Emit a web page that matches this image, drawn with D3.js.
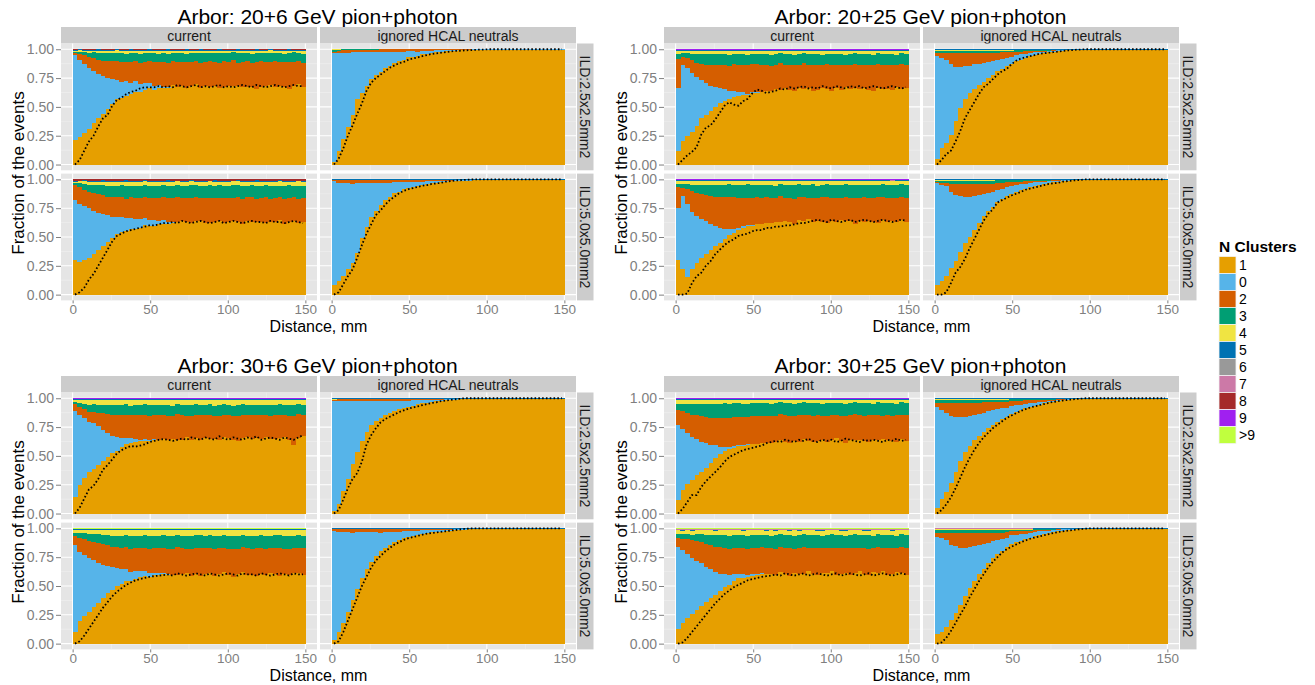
<!DOCTYPE html>
<html><head><meta charset="utf-8">
<script src="https://cdn.jsdelivr.net/npm/d3@7"></script>
<style>body{margin:0;background:#fff}svg{font-family:"Liberation Sans",Arial,sans-serif}</style>
</head><body>
<script>
// ---------- DATA (percent of events per 3 mm distance bin) ----------
const binEdges=[0,3,6,9,12,15,18,21,24,27,30,33,36,39,42,45,48,51,54,57,60,63,66,69,72,75,78,81,84,87,90,93,96,99,102,105,108,111,114,117,120,123,126,129,132,135,138,141,144,147,150];
const clusterKeys=["1","0","2","3","4","5","6","7","8","9",">9"];
const titles=["Arbor: 20+6 GeV pion+photon","Arbor: 20+25 GeV pion+photon","Arbor: 30+6 GeV pion+photon","Arbor: 30+25 GeV pion+photon"];
const colLabels=["current","ignored HCAL neutrals"];
const rowLabels=["ILD:2.5x2.5mm2","ILD:5.0x5.0mm2"];
const yTicks=[0,0.25,0.5,0.75,1];
const xTicks=[0,50,100,150];

// 20+6 current 2.5
const aC25_n1=[21,24,27,31,36,40,44,48,52,56,58,59,61,62,63,64,65,65,66,66,67,68,67,68,66,68,69,67,68,67,68,67,66,68,67,69,68,67,68,66,67,68,69,67,68,67,66,68,69,68];
const aC25_n0=[74,66,60,53,45,39,33,27,22,17,14,13,10,9,7,6,4,3,2,1,0.5,0,0,0.3,0,0,0,0,0,0,0,0,0,0,0,0,0,0,0,0,0,0,0,0,0,0,0,0,0,0];
const aC25_n2=[2,5,7,9,11,12,13,14,15,16,17,16,18,17,19,18,19,21,20,21,21,20,22,21,22,21,20,22,21,22,21,22,22,20,22,20,21,22,21,23,22,21,20,22,21,22,23,21,20,21];
const aC25_n3=[1,2,3,4,5,6,7,7,7,7,8,7,8,7,8,8,7,8,7,8,8,7,8,8,7,8,7,8,8,7,8,8,7,8,7,8,8,7,8,8,7,8,8,7,8,7,8,8,7,8];
const aC25_n4=[1,1,1,1.5,1.5,2,2,2,2,2,2,2.5,2,2,2.5,2,1.5,2,2.5,2,2.5,2,2,1.5,2.5,2,2,2.5,1.5,2,2,2.5,2,2,1.5,2.5,2,2,2.5,2,2,1.5,2.5,2,2,2.5,2,1.5,2,2.5];
const aC25_n5=[1,0.8,1,1.2,1,0.9,1,1.1,1,0.8,1,1.2,0.9,1,1,0.8,1.1,1,0.9,1,1.2,1,0.8,1,1.1,0.9,1,1,1.2,0.8,1,0.9,1.1,1,0.8,1,1.2,1,0.9,1,1,1.1,0.8,1,1,0.9,1.2,1,0.8,1];
const aC25_n8=[0.3,0.2,0.3,0.4,0.3,0.2,0.3,0.3,0.4,0.2,0.3,0.3,0.2,0.4,0.3,0.3,0.2,0.3,0.4,0.3,0.2,0.3,0.3,0.4,0.2,0.3,0.3,0.2,0.4,0.3,0.3,0.2,0.3,0.4,0.3,0.2,0.3,0.3,0.4,0.2,0.3,0.3,0.2,0.4,0.3,0.3,0.2,0.3,0.4,0.3];
const aC25_dots=[0,4,12,20,25,33,40,43,51,56,58,61,63,64,66,67,67,67,68,67,68,67,69,68,67,68,69,67,68,67,68,69,67,68,67,68,69,68,67,69,68,67,68,69,68,67,68,69,68,68];

// 20+6 current 5.0
const aC50_n1=[30,28,30,32,35,39,42,46,49,52,54,56,57,57,58,59,60,60,61,61,62,63,62,64,63,62,63,64,63,62,63,64,62,63,64,63,62,64,63,64,63,62,64,63,64,62,63,64,63,63];
const aC50_n0=[53,51,47,43,38,32,28,23,19,15,13,11,9,9,8,6,5,5,3,3,1,0.5,0,0,0,0,0,0,0,0,0,0,0,0,0,0,0,0,0,0,0,0,0,0,0,0,0,0,0,0];
const aC50_n2=[13,15,14,14,15,16,16,16,17,16.5,17,17,18,18,18,18.5,19,19,19.5,20,21,21,21,20,21,22,21,20,21,22,21,20,22,21,20,21,22,20,21,20,21,22,20,21,20,22,21,20,21,21];
const aC50_n3=[2,3,5,6.5,7,8,9,9.5,10,10,10.5,11,10,11,10.5,10,11,10.5,11,10,11,10.5,10,11,10.5,11,10,10.5,11,10.5,10,11,10.5,10,11,10.5,11,10,10.5,11,10.5,10,11,10.5,10,11,10.5,10,11,10.5];
const aC50_n4=[1,1.5,2,2.5,3,3,3,3.5,3.5,3.5,3,4,3.5,3.5,4,3,3.5,4,3.5,3,3.5,4,3,3.5,4,3.5,3,4,3.5,3.5,4,3,3.5,4,3.5,3,4,3.5,3,4,3.5,3,4,3.5,3.5,4,3,3.5,4,3.5];
const aC50_n5=[1,0.8,1,1.2,1,0.9,1,1.1,1,0.8,1,1.2,0.9,1,1,0.8,1.1,1,0.9,1,1.2,1,0.8,1,1.1,0.9,1,1,1.2,0.8,1,0.9,1.1,1,0.8,1,1.2,1,0.9,1,1,1.1,0.8,1,1,0.9,1.2,1,0.8,1];
const aC50_n8=[1,1,0.8,1,1.2,1,0.9,1,1,1.1,1,0.9,1,1.2,1,0.8,1,1,1.1,1,0.9,1,1,1.2,1,0.8,1,1.1,1,1,0.9,1,1.2,1,1,0.8,1,1.1,1,0.9,1,1,1.2,1,0.8,1,1,1.1,1,1];
const aC50_dots=[0,2,6,13,18,25,32,39,46,51,53,55,56,57,58,59,60,60,61,62,62,63,62,64,63,62,63,64,63,62,63,64,62,63,64,63,62,63,64,63,63,62,64,63,63,62,63,64,63,62];

// 20+6 ignored 2.5
const aI25_n1=[2,12,22,32,42,57,62,68,74,77,80,83,85,87,89,90,92,93,94,95,96,96.5,97,97.5,98,98.5,98.5,99,99,99.2,99.4,99.5,99.4,99.6,99.5,99.6,99.5,99.6,99.7,99.6,99.7,99.6,99.7,99.7,99.6,99.7,99.8,99.7,99.7,99.8];
const aI25_n0=[95,85,74,64,54,40,35,29,23,20,17,14,12,10,8,7,5.5,4.5,3.5,3,2.5,2,2,1.5,1,0.8,0.8,0.5,0.5,0.4,0.3,0.3,0.3,0.3,0.3,0.3,0.3,0.3,0.3,0.3,0.2,0.2,0.2,0.2,0.2,0.2,0.2,0.2,0.2,0.2];
const aI25_n2=[1,2,3,2.5,2,2.5,2,2.5,2,2,2,2,2,2,2,2,1.5,1.8,2,1.5,1.2,1.2,0.8,0.8,0.8,0.5,0.5,0.4,0.4,0.3,0.2,0.2,0.2,0.2,0.2,0.2,0.2,0.2,0.2,0.2,0.2,0.2,0.2,0.2,0.2,0.2,0.2,0.2,0.2,0.2];
const aI25_n3=[1.5,1,0.3,0.3,0.3,0.3,0.3,0.3,0.3,0.3,0.2,0.2,0.1,0,0,0,0,0,0,0,0,0,0,0,0,0,0,0,0,0,0,0,0,0,0,0,0,0,0,0,0,0,0,0,0,0,0,0,0,0];
const aI25_n4=[0.5,0.3,0,0,0,0,0,0,0,0,0,0,0,0,0,0,0,0,0,0,0,0,0,0,0,0,0,0,0,0,0,0,0,0,0,0,0,0,0,0,0,0,0,0,0,0,0,0,0,0];
const aI25_dots=[0,5,14,25,34,44,53,64,71,75,78,81,84,86,88,89,91,92,93,94,95,96,96.5,97,97.5,98,98.5,98.7,99,99.2,99.4,99.6,99.7,100,100,100,100,100,100,100,100,100,100,100,100,100,100,100,100,100];

// 20+6 ignored 5.0
const aI50_n1=[8,12,16,22,27,36,48,58,66,72,77,81,84,87,89,91,92,93,94,95,95.5,96,97,97.5,98,98.5,98.5,99,99,99.2,99.3,99.4,99.3,99.4,99.5,99.4,99.5,99.4,99.5,99.5,99.5,99.5,99.4,99.5,99.5,99.5,99.5,99.4,99.5,99.5];
const aI50_n0=[89,84,79,73,68,59,47,37,29,24,19,15,12,9.5,8,6,5,4,3.5,2.8,2.5,2,1.5,1.2,1,0.7,0.7,0.5,0.4,0.3,0.2,0.2,0.2,0.2,0.2,0.2,0.2,0.2,0.2,0.2,0.2,0.2,0.2,0.2,0.2,0.2,0.2,0.2,0.2,0.2];
const aI50_n2=[1,2.5,3,3,3,3,3,3,3,2.5,2.5,2.5,2.5,2.2,2,2,2,2,1.5,1.5,1.2,1,1,0.8,0.6,0.5,0.4,0.3,0.3,0.2,0.1,0.1,0.1,0.1,0.1,0.1,0.1,0.1,0.1,0.1,0.1,0.1,0.1,0.1,0.1,0.1,0.1,0.1,0.1,0.1];
const aI50_n5=[0.5,0.5,0.4,0.5,0.6,0.5,0.5,0.4,0.5,0.5,0.6,0.5,0.5,0.4,0.5,0.5,0.6,0.5,0.4,0.5,0.5,0.5,0.6,0.5,0.4,0.5,0.5,0.5,0.6,0.5,0.5,0.4,0.5,0.5,0.6,0.5,0.5,0.4,0.5,0.5,0.5,0.6,0.5,0.4,0.5,0.5,0.5,0.6,0.5,0.5];
const aI50_dots=[0,2,9,16,22,32,43,53,61,69,73,78,82,85,88,90,91.5,92.5,93.5,94.5,95,96,96.5,97,98,98.5,99,99.2,99.5,99.7,100,100,100,100,100,100,100,100,100,100,100,100,100,100,100,100,100,100,100,100];

// 20+25 current 2.5
const bC25_n1=[12,20,24,28,33,40,43,46,50,53,55,57,58,59,60,61,62,62,63,64,64,65,64,66,65,64,66,65,66,64,65,66,65,64,66,65,67,65,66,65,66,65,64,66,65,66,65,67,65,66];
const bC25_n0=[55,66,58,50,42,32,27,22,17,13,10,7,5,3.5,2.5,1.5,0.5,0.5,0,0,0,0,0,0,0,0,0,0,0,0,0,0,0,0,0,0,0,0,0,0,0,0,0,0,0,0,0,0,0,0];
const bC25_n2=[25,7,9,11,12,14,16,18,19,20,21,22,23,24,24,25,24,24.5,23.5,22.5,22.5,21.5,22.5,20.5,21.5,22.5,20.5,21.5,20.5,22.5,21.5,20.5,21.5,22.5,20.5,21.5,19.5,21.5,20.5,21.5,20.5,21.5,22.5,20.5,21.5,20.5,21.5,19.5,21.5,20.5];
const bC25_n3=[4,3,4,5,7,8,9,9,9,9,9,9.5,8.5,9,9,9.5,9,8.5,9,9,9.5,9,8.5,9,9.5,9,9,8.5,9,9.5,9,8.5,9,9.5,9,9,8.5,9,9.5,9,9,9.5,8.5,9,9,9.5,9,8.5,9,9];
const bC25_n4=[3,2,2,2.5,3,3,3,3,3,3,3,3.5,2.5,3,3,3.5,3,2.5,3,3,3.5,3,2.5,3,3,3.5,3,2.5,3,3,3,3.5,3,2.5,3,3,3.5,3,2.5,3,3,3,3.5,2.5,3,3,3,3.5,2.5,3];
const bC25_n5=[0.5,0.5,0.4,0.6,0.5,0.5,0.4,0.5,0.6,0.5,0.5,0.4,0.5,0.5,0.6,0.5,0.4,0.5,0.5,0.6,0.5,0.5,0.4,0.5,0.6,0.5,0.5,0.4,0.5,0.5,0.6,0.5,0.4,0.5,0.5,0.6,0.5,0.5,0.4,0.5,0.6,0.5,0.5,0.4,0.5,0.5,0.6,0.5,0.4,0.5];
const bC25_n9=[0.8,0.8,0.7,0.9,0.8,0.8,0.7,0.8,0.9,0.8,0.8,0.7,0.8,0.8,0.9,0.8,0.7,0.8,0.8,0.9,0.8,0.8,0.7,0.8,0.9,0.8,0.8,0.7,0.8,0.8,0.9,0.8,0.7,0.8,0.8,0.9,0.8,0.8,0.7,0.8,0.9,0.8,0.8,0.7,0.8,0.8,0.9,0.8,0.7,0.8];
const bC25_dots=[0,4,8,11,15,26,32,34,39,45,51,54,52,51,55,57,62,65,64,62,63,64,66,65,67,66,67,68,66,67,66,68,67,66,68,67,66,68,67,68,66,67,68,67,66,67,68,67,66,67];

// 20+25 current 5.0
const bC50_n1=[30,22,15,22,27,31,35,39,42,45,49,52,54,56,58,59,60,60.5,61,62,62,63,62,64,63,62,64,63,65,63,64,63,62,64,63,65,63,64,62,64,63,64,63,62,64,63,64,63,64,63];
const bC50_n0=[45,63,63,50,41,34,28,22,17.5,13,8,5,3,2,1.5,1,0.5,0.5,0,0,0,0,0,0,0,0,0,0,0,0,0,0,0,0,0,0,0,0,0,0,0,0,0,0,0,0,0,0,0,0];
const bC50_n2=[19,7,13,18,20,21,22,24,25.5,27,28,28,28,26,24.5,24,23.5,23,23,22,22,21,22,20,21,22,20,21,19,21,20,21,22,20,21,19,21,20,22,20,21,20,21,22,20,21,20,21,20,21];
const bC50_n3=[2,3,4,5,7,8,9,10,10,10.5,11,11.5,10.5,11,11,11.5,11,10.5,11,11,11.5,11,10.5,11,11,11.5,11,10.5,11,11.5,11,10.5,11,11.5,11,11,10.5,11,11.5,11,11,11.5,10.5,11,11,11.5,11,10.5,11,11];
const bC50_n4=[3,3,3,3.5,3.5,3.5,3.5,3.5,3.5,3.5,3.5,3,4,3.5,3.5,3,4,3.5,3.5,3,3.5,4,3,3.5,3.5,4,3,3.5,3.5,3,4,3.5,3,3.5,4,3.5,3,3.5,4,3.5,3,3.5,4,3.5,3,3.5,3.5,4,3,3.5];
const bC50_n5=[0.5,0.5,0.4,0.6,0.5,0.5,0.4,0.5,0.6,0.5,0.5,0.4,0.5,0.5,0.6,0.5,0.4,0.5,0.5,0.6,0.5,0.5,0.4,0.5,0.6,0.5,0.5,0.4,0.5,0.5,0.6,0.5,0.4,0.5,0.5,0.6,0.5,0.5,0.4,0.5,0.6,0.5,0.5,0.4,0.5,0.5,0.6,0.5,0.4,0.5];
const bC50_n7=[0.3,0.3,0.2,0.4,0.3,0.3,0.2,0.3,0.4,0.3,0.3,0.2,0.3,0.3,0.4,0.3,0.2,0.3,0.3,0.4,0.3,0.3,0.2,0.3,0.4,0.3,0.3,0.2,0.3,0.3,0.4,0.3,0.2,0.3,0.3,0.4,0.3,0.3,0.2,0.3,0.4,0.3,0.3,0.2,0.3,0.3,0.4,0.3,0.2,0.3];
const bC50_n9=[0.5,0.6,0.5,0.4,0.5,0.5,0.6,0.5,0.4,0.5,0.5,0.6,0.5,0.4,0.5,0.5,0.6,0.5,0.4,0.5,0.5,0.6,0.5,0.4,0.5,0.5,0.6,0.5,0.4,0.5,0.5,0.6,0.5,0.4,0.5,0.5,0.6,0.5,0.4,0.5,0.5,0.6,0.5,0.4,0.5,0.5,0.6,0.5,0.4,0.5];
const bC50_dots=[0,0,1,10,16,19,25,29,35,39,43,46,48,51,52,53,55,56,56,58,58,59,59,60,60,61,62,62,63,64,65,64,63,65,64,63,64,65,63,64,65,64,63,64,65,64,63,64,65,64];

// 20+25 ignored 2.5
const bI25_n1=[5,14,19,26,38,49,57,62,66,69,72,75,78,81,83,85,87,89,90.5,92,93,94,95,96,97,97.5,98,98.5,99,99.2,99.3,99.4,99.5,99.4,99.5,99.6,99.5,99.6,99.6,99.5,99.6,99.6,99.7,99.6,99.6,99.7,99.6,99.7,99.6,99.7];
const bI25_n0=[88,78,71,61,47,36,29,24,21,18.5,16,14,12,9.5,8.5,7.5,6,5,4.5,3.5,3,2.5,2,1.5,1,1,0.5,0.3,0.2,0.2,0.1,0.1,0.1,0.1,0.1,0.1,0.1,0.1,0.1,0.1,0.1,0.1,0.1,0.1,0.1,0.1,0.1,0.1,0.1,0.1];
const bI25_n2=[3,4,6.5,10,12,12,11,11,10,9.5,9,8,7,6.5,5.5,4.5,4,3,2.5,2,1.5,1.2,1,0.8,0.5,0.3,0.3,0.2,0.2,0.1,0.1,0.1,0.1,0.1,0.1,0.1,0.1,0.1,0.1,0.1,0.1,0.1,0.1,0.1,0.1,0.1,0.1,0.1,0.1,0.1];
const bI25_n3=[2,2,2,2,2,2,2,2,2,2,2,2,1.8,1.8,1.6,1.6,1.5,1.5,1.3,1.2,1,0.8,0.6,0.5,0.4,0.3,0.2,0.2,0.1,0.1,0.1,0.1,0.1,0.1,0.1,0.1,0.1,0.1,0.1,0.1,0.1,0.1,0.1,0.1,0.1,0.1,0.1,0.1,0.1,0.1];
const bI25_n4=[0.8,0.8,0.8,0.8,0.8,0.8,0.8,0.8,0.8,0.8,0.8,0.8,0.8,0.8,0.8,0.8,0.8,0.4,0.4,0.4,0.4,0.4,0.4,0.4,0.4,0.4,0.1,0.1,0.1,0.1,0.1,0.1,0.1,0.1,0.1,0.1,0.1,0.1,0.1,0.1,0.1,0.1,0.1,0.1,0.1,0.1,0.1,0.1,0.1,0.1];
const bI25_n5=[0.3,0.3,0.3,0.3,0.3,0.3,0.3,0.3,0.3,0.3,0.3,0.3,0.3,0.3,0.3,0.3,0.3,0.3,0.3,0.3,0.3,0.3,0.3,0.3,0.3,0.3,0.3,0.3,0.3,0.3,0.3,0.3,0.3,0.3,0.3,0.3,0.3,0.3,0.3,0.3,0.3,0.3,0.3,0.3,0.3,0.3,0.3,0.3,0.3,0.3];
const bI25_dots=[0,4,9,12,20,29,40,47,54,61,67,70,74,78,81,83,87,90,92,93,94,95,96,96.5,97,97.5,98,98.5,99,99.3,99.6,99.8,100,100,100,100,100,100,100,100,100,100,100,100,100,100,100,100,100,100];

// 20+25 ignored 5.0
const bI50_n1=[8,12,16,23,29,37,44,50,56,62,68,72,76,80,82,84,86,87.5,89,90.5,92,93,94,95,96,97,97.5,98,98.5,99,99.2,99.3,99.4,99.5,99.4,99.5,99.6,99.5,99.6,99.5,99.6,99.6,99.5,99.6,99.7,99.6,99.6,99.7,99.6,99.7];
const bI50_n0=[88,83,77,65,57,48,40,34,29,24,19,16,13,10,9,8,7,6,5,4,3.5,3,2.5,2,1.5,1,1,0.5,0.4,0.3,0.2,0.2,0.2,0.2,0.2,0.2,0.2,0.2,0.2,0.2,0.1,0.1,0.1,0.1,0.1,0.1,0.1,0.1,0.1,0.1];
const bI50_n2=[1,1.5,3,7,9,10,11,11.5,10.5,9.5,8.5,7.5,6.5,6,5,4,3,2.5,2.2,2,1.5,1.2,1,0.8,0.6,0.5,0.4,0.3,0.3,0.2,0.1,0.1,0.1,0.1,0.1,0.1,0.1,0.1,0.1,0.1,0.1,0.1,0.1,0.1,0.1,0.1,0.1,0.1,0.1,0.1];
const bI50_n3=[1,2,2,3,3,3,3,3,3,3,3,3,3,2.5,2.5,2,2,1.5,1.5,1.2,1,0.8,0.6,0.5,0.4,0.3,0.3,0.2,0.2,0.1,0.1,0.1,0.1,0.1,0.1,0.1,0.1,0.1,0.1,0.1,0.1,0.1,0.1,0.1,0.1,0.1,0.1,0.1,0.1,0.1];
const bI50_n4=[0.7,0.7,0.7,0.7,0.7,0.7,0.7,0.7,0.7,0.7,0.7,0.7,0.7,0.3,0.3,0.3,0.3,0.3,0.3,0.3,0.3,0.3,0.3,0.3,0.3,0.3,0,0,0,0,0,0,0,0,0,0,0,0,0,0,0,0,0,0,0,0,0,0,0,0];
const bI50_n5=[0.3,0.3,0.3,0.3,0.3,0.3,0.3,0.3,0.3,0.3,0.3,0.3,0.3,0.3,0.3,0.3,0.3,0.3,0.3,0.3,0.3,0.3,0.3,0.3,0.3,0.3,0.3,0.3,0.3,0.3,0.3,0.3,0.3,0.3,0.3,0.3,0.3,0.3,0.3,0.3,0.3,0.3,0.3,0.3,0.3,0.3,0.3,0.3,0.3,0.3];
const bI50_dots=[0,0,2,10,19,24,31,40,48,56,64,70,74,80,82,84,86,87.5,89,91,92,93,94,95,96,96.5,97,98,98.5,99,99.3,99.6,100,100,100,100,100,100,100,100,100,100,100,100,100,100,100,100,100,100];

// 30+6 current 2.5
const cC25_n1=[14,25,30,36,38,42,45,49,53,55,58,60,61,62,63,63,63,64,64,64.5,64,65,63,64,66,64,65,63,65,64,65,64,66,65,64,63,65,66,64,65,64,66,65,64,65,66,64,60,65,67];
const cC25_n0=[75,60,52,43,40,34,27,21,14.5,11.5,8,6,4.5,3,1.5,1.5,1,0.5,0,0,0,0,0,0,0,0,0,0,0,0,0,0,0,0,0,0,0,0,0,0,0,0,0,0,0,0,0,0,0,0];
const cC25_n2=[6,7,7,9,9.5,11,14.5,16,18.5,19.5,20,19.5,20,20.5,21,21,21,21,21,20.5,21,20,22,21,19,21,20,22,20,21,20,21,19,20,21,22,20,19,21,20,21,19,20,21,20,19,21,25,20,18];
const cC25_n3=[2,3,5,6,6.5,7,7.5,8,8.5,9,9,9.5,8.5,9,9,9.5,9,8.5,9,9,9.5,9,8.5,9,9,9.5,9,8.5,9,9,9,9.5,9,8.5,9,9,9.5,9,8.5,9,9,9,9.5,8.5,9,9,9,9.5,8.5,9];
const cC25_n4=[2,3,3.5,4,4,4.5,4.5,4.5,4.5,4.5,4.5,4,5,4.5,4.5,4,5,4.5,4.5,4,4.5,5,4,4.5,4.5,5,4,4.5,4.5,4,5,4.5,4,4.5,5,4.5,4,4.5,5,4.5,4,4.5,5,4.5,4,4.5,4.5,5,4,4.5];
const cC25_n5=[0.5,0.5,0.4,0.6,0.5,0.5,0.4,0.5,0.6,0.5,0.5,0.4,0.5,0.5,0.6,0.5,0.4,0.5,0.5,0.6,0.5,0.5,0.4,0.5,0.6,0.5,0.5,0.4,0.5,0.5,0.6,0.5,0.4,0.5,0.5,0.6,0.5,0.5,0.4,0.5,0.6,0.5,0.5,0.4,0.5,0.5,0.6,0.5,0.4,0.5];
const cC25_n9=[0.8,0.8,0.7,0.9,0.8,0.8,0.7,0.8,0.9,0.8,0.8,0.7,0.8,0.8,0.9,0.8,0.7,0.8,0.8,0.9,0.8,0.8,0.7,0.8,0.9,0.8,0.8,0.7,0.8,0.8,0.9,0.8,0.7,0.8,0.8,0.9,0.8,0.8,0.7,0.8,0.9,0.8,0.8,0.7,0.8,0.8,0.9,0.8,0.7,0.8];
const cC25_dots=[0,5,13,21,24,30,38,42,47,52,55,57,58.5,58,59,60,62,63,64,64.5,64,63,64,65,64,66,65,64,66,65,64,67,65,64,66,65,64,66,65,67,64,65,66,65,64,66,65,64,66,68];

// 30+6 current 5.0
const cC50_n1=[10,20,24,28,32,36,40,44,47,50,52,54,55,56,57,58,58,59,59,60,59,60,58,60,61,59,60,58,60,61,59,60,61,59,58,60,61,59,60,58,60,59,61,60,58,60,59,61,60,59];
const cC50_n0=[75,60,53,47,41,35,29,24,20,16,13,10,8,6.5,5,4,3,2,1.5,1,0.5,0,0,0,0,0,0,0,0,0,0,0,0,0,0,0,0,0,0,0,0,0,0,0,0,0,0,0,0,0];
const cC50_n2=[8,12,14,15,16,17,18,18,18,18,18.5,19,19.5,20,20,20,21,21,21.5,21,22,22,24,22,21,23,22,24,22,21,23,22,21,23,24,22,21,23,22,24,22,23,21,22,24,22,23,21,22,23];
const cC50_n3=[3,4,5,6,7,8,8.5,9,9.5,10,11,10.5,11.5,11,10.5,11,11.5,11,10.5,11,11,11.5,10.5,11,11,11.5,11,10.5,11,11.5,11,10.5,11,11.5,11,11,10.5,11,11.5,11,11,11.5,10.5,11,11,11.5,11,10.5,11,11];
const cC50_n4=[2.5,3,3,3.5,3.5,4,4.5,4.5,5,5,5,4.5,5.5,5,5,4.5,5.5,5,5,4.5,5,5.5,4.5,5,5,5.5,4.5,5,5,4.5,5.5,5,4.5,5,5.5,5,4.5,5,5.5,5,4.5,5,5.5,5,4.5,5,5,5.5,4.5,5];
const cC50_n5=[0.7,0.7,0.6,0.8,0.7,0.7,0.6,0.7,0.8,0.7,0.7,0.6,0.7,0.7,0.8,0.7,0.6,0.7,0.7,0.8,0.7,0.7,0.6,0.7,0.8,0.7,0.7,0.6,0.7,0.7,0.8,0.7,0.6,0.7,0.7,0.8,0.7,0.7,0.6,0.7,0.8,0.7,0.7,0.6,0.7,0.7,0.8,0.7,0.6,0.7];
const cC50_n10=[0.6,0.6,0.5,0.7,0.6,0.6,0.5,0.6,0.7,0.6,0.6,0.5,0.6,0.6,0.7,0.6,0.5,0.6,0.6,0.7,0.6,0.6,0.5,0.6,0.7,0.6,0.6,0.5,0.6,0.6,0.7,0.6,0.5,0.6,0.6,0.7,0.6,0.6,0.5,0.6,0.7,0.6,0.6,0.5,0.6,0.6,0.7,0.6,0.5,0.6];
const cC50_dots=[0,2,7,13,19,25,31,36,41,45,48,51,53,55,56,57,58,58.5,59,59.5,60,59,61,60,59,60,61,60,59,61,60,59,60,61,60,59,61,60,60,59,61,60,59,60,61,60,59,61,60,60];

// 30+6 ignored 2.5
const cI25_n1=[2,8,19,30,43,53,63,71,77,80,83,85,87,88.5,90,91,92,93,94,95,95.5,96.5,97,97.5,98,98.5,99,99.2,99.4,99.5,99.5,99.6,99.5,99.6,99.7,99.6,99.7,99.7,99.6,99.7,99.7,99.7,99.8,99.7,99.7,99.8,99.7,99.8,99.7,99.8];
const cI25_n0=[95,89,78,67,54,44,34,26,20,17,14,12,10,8.5,7,6,5,4.5,3.5,3,2.5,2,1.5,1.2,1,0.8,0.5,0.4,0.3,0.2,0.2,0.2,0.2,0.2,0.2,0.2,0.2,0.2,0.2,0.2,0.1,0.1,0.1,0.1,0.1,0.1,0.1,0.1,0.1,0.1];
const cI25_n2=[1,1.5,2,2.5,2.5,2.5,2.5,2.5,2.5,2.5,2.5,2.5,2.5,2.3,2.2,2,1.8,1.5,1.5,1.2,1.2,1,1,0.8,0.6,0.5,0.4,0.3,0.2,0.2,0.1,0.1,0.1,0.1,0.1,0.1,0.1,0.1,0.1,0.1,0.1,0.1,0.1,0.1,0.1,0.1,0.1,0.1,0.1,0.1];
const cI25_n4=[1,0.5,0,0,0,0,0,0,0,0,0,0,0,0,0,0,0,0,0,0,0,0,0,0,0,0,0,0,0,0,0,0,0,0,0,0,0,0,0,0,0,0,0,0,0,0,0,0,0,0];
const cI25_n5=[0.3,0.3,0.3,0.3,0.3,0.3,0.3,0.3,0.3,0.3,0.3,0.3,0.3,0.3,0.3,0.3,0.3,0.3,0.3,0.3,0.3,0.3,0.3,0.3,0.3,0.3,0.3,0.3,0.3,0.3,0.3,0.3,0.3,0.3,0.3,0.3,0.3,0.3,0.3,0.3,0.3,0.3,0.3,0.3,0.3,0.3,0.3,0.3,0.3,0.3];
const cI25_dots=[0,3,12,22,30,35,45,60,68,74,79,82,84,86,88,89.5,91,92,93,94,95,96,96.5,97.5,98,98.5,99,99.5,100,100,100,100,100,100,100,100,100,100,100,100,100,100,100,100,100,100,100,100,100,100];

// 30+6 ignored 5.0
const cI50_n1=[3,10,18,27,37,47,56,64,70,75,79,82,85,87,89,90.5,92,93,94,95,95.5,96,96.5,97,97.5,98,98.5,99,99.2,99.3,99.4,99.4,99.5,99.4,99.5,99.5,99.6,99.5,99.5,99.6,99.5,99.6,99.5,99.6,99.5,99.6,99.6,99.5,99.6,99.6];
const cI50_n0=[93,86,77,68,58,48,39,31,25,20,16,13.5,11,9,7.5,6,5,4,3.5,3,2.5,2,1.8,1.5,1.2,1,0.7,0.5,0.3,0.2,0.1,0.1,0.1,0.1,0.1,0.1,0.1,0.1,0.1,0.1,0.1,0.1,0.1,0.1,0.1,0.1,0.1,0.1,0.1,0.1];
const cI50_n2=[2,2.5,3,3,3,3,3,3,3,3,3,2.5,2.5,2.5,2.2,2,1.8,1.8,1.5,1.2,1.2,1,1,0.8,0.6,0.5,0.3,0.2,0.2,0.2,0.1,0.1,0.1,0.1,0.1,0.1,0.1,0.1,0.1,0.1,0.1,0.1,0.1,0.1,0.1,0.1,0.1,0.1,0.1,0.1];
const cI50_n5=[0.5,0.5,0.4,0.5,0.6,0.5,0.5,0.4,0.5,0.5,0.6,0.5,0.5,0.4,0.5,0.5,0.6,0.5,0.4,0.5,0.5,0.5,0.6,0.5,0.4,0.5,0.5,0.5,0.6,0.5,0.5,0.4,0.5,0.5,0.6,0.5,0.5,0.4,0.5,0.5,0.5,0.6,0.5,0.4,0.5,0.5,0.5,0.6,0.5,0.5];
const cI50_dots=[0,2,10,20,30,40,50,58,66,72,76,80,83,86,88,90,91.5,92.5,93.5,94.5,95.5,96,96.5,97,97.5,98,98.5,99,99.5,99.8,100,100,100,100,100,100,100,100,100,100,100,100,100,100,100,100,100,100,100,100];

// 30+25 current 2.5
const dC25_n1=[12,20,25,29,33,36,39,43,47,50,53,55,56,57,58,59,59,60,60.5,61,61,62,63,62,61,63,62,64,63,62,63,64,62,63,65,63,62,64,63,64,63,62,64,63,65,64,63,62,64,63];
const dC25_n0=[64,53,44,37,31,26,21,16,11,6.5,3,2,1.5,1,0.5,0.5,0,0,0,0,0,0,0,0,0,0,0,0,0,0,0,0,0,0,0,0,0,0,0,0,0,0,0,0,0,0,0,0,0,0];
const dC25_n2=[13,15,17,19,20.5,22,23,23,23,24,25,25,24,24,24,23.5,24,23.5,23.5,23.5,24,23,22,23,24,22,23,21,22,23,22,21,23,22,20,22,23,21,22,21,22,23,21,22,20,21,22,23,21,22];
const dC25_n3=[5,6,8,9,10,10.5,11,12,12,12,12,12,12,12,11.5,11.5,11,11,11,10.5,10.5,11,10,10.5,10.5,11,10,10.5,10.5,11,10,10.5,11,10.5,10,10.5,11,10.5,10,10.5,11,10.5,10,10.5,11,10.5,10.5,10,11,10.5];
const dC25_n4=[4,4,3.5,3.5,3.5,3.5,3.5,3.5,3.5,3.5,3,3.5,3,2.5,3,3.5,3,3,2.5,3,3.5,3,2.5,3,3,3.5,3,2.5,3,3,3,3.5,3,2.5,3,3,3.5,3,2.5,3,3,3,3.5,2.5,3,3,3,3.5,2.5,3];
const dC25_n5=[0.5,0.5,0.4,0.6,0.5,0.5,0.4,0.5,0.6,0.5,0.5,0.4,0.5,0.5,0.6,0.5,0.4,0.5,0.5,0.6,0.5,0.5,0.4,0.5,0.6,0.5,0.5,0.4,0.5,0.5,0.6,0.5,0.4,0.5,0.5,0.6,0.5,0.5,0.4,0.5,0.6,0.5,0.5,0.4,0.5,0.5,0.6,0.5,0.4,0.5];
const dC25_n9=[0.8,0.8,0.7,0.9,0.8,0.8,0.7,0.8,0.9,0.8,0.8,0.7,0.8,0.8,0.9,0.8,0.7,0.8,0.8,0.9,0.8,0.8,0.7,0.8,0.9,0.8,0.8,0.7,0.8,0.8,0.9,0.8,0.7,0.8,0.8,0.9,0.8,0.8,0.7,0.8,0.9,0.8,0.8,0.7,0.8,0.8,0.9,0.8,0.7,0.8];
const dC25_dots=[0,4,10,16,16,23,28,32,36,40,45,49,51,53,55,56,57,58,59,61,62,63,62,64,63,62,64,63,65,63,62,64,63,64,62,63,65,64,63,62,64,63,64,63,62,64,63,65,63,64];

// 30+25 current 5.0
const dC50_n1=[12,18,22,26,29,33,36,40,43,46,49,51,53,55,56,57,58,58.5,59,59.5,60,59,61,60,58,61,60,59,62,60,59,61,60,62,59,60,61,59,60,62,60,59,61,60,62,59,60,61,60,59];
const dC50_n0=[70,63,56,49,43,37,31,25,20,15,11,8,6,4,3,2,1.5,1,0.5,0.5,0,0,0,0,0,0,0,0,0,0,0,0,0,0,0,0,0,0,0,0,0,0,0,0,0,0,0,0,0,0];
const dC50_n2=[8,10,13,15,17,18,20,21,22,23,23,23,22,22,22,22,22,22,22,22,22,23,21,22,24,21,22,23,20,22,23,21,22,20,23,22,21,23,22,20,22,23,21,22,20,23,22,21,22,23];
const dC50_n3=[3,4,4.5,5,6,7,8,9,10,10.5,11,11.5,11,10.5,11,11.5,11,11,10.5,11,11,11.5,10.5,11,11,11.5,11,10.5,11,11.5,11,10.5,11,11.5,11,11,10.5,11,11.5,11,11,11.5,10.5,11,11,11.5,11,10.5,11,11];
const dC50_n4=[3,3,3,3.5,3.5,3.5,4,4,4,4,4,4.5,3.5,4,4,4.5,4,3.5,4,4,4.5,4,3.5,4,4,4.5,4,3.5,4,4,4,4.5,4,3.5,4,4,4.5,4,3.5,4,4,4,4.5,3.5,4,4,4,4.5,3.5,4];
const dC50_n5=[0.5,0.5,0.4,0.6,0.5,0.5,0.4,0.5,0.6,0.5,0.5,0.4,0.5,0.5,0.6,0.5,0.4,0.5,0.5,0.6,0.5,0.5,0.4,0.5,0.6,0.5,0.5,0.4,0.5,0.5,0.6,0.5,0.4,0.5,0.5,0.6,0.5,0.5,0.4,0.5,0.6,0.5,0.5,0.4,0.5,0.5,0.6,0.5,0.4,0.5];
const dC50_n7=[0.5,0.6,0.5,0.4,0.5,0.5,0.6,0.5,0.4,0.5,0.5,0.6,0.5,0.4,0.5,0.5,0.6,0.5,0.4,0.5,0.5,0.6,0.5,0.4,0.5,0.5,0.6,0.5,0.4,0.5,0.5,0.6,0.5,0.4,0.5,0.5,0.6,0.5,0.4,0.5,0.5,0.6,0.5,0.4,0.5,0.5,0.6,0.5,0.4,0.5];
const dC50_n10=[0.8,0.8,0.7,0.9,0.8,0.8,0.7,0.8,0.9,0.8,0.8,0.7,0.8,0.8,0.9,0.8,0.7,0.8,0.8,0.9,0.8,0.8,0.7,0.8,0.9,0.8,0.8,0.7,0.8,0.8,0.9,0.8,0.7,0.8,0.8,0.9,0.8,0.8,0.7,0.8,0.9,0.8,0.8,0.7,0.8,0.8,0.9,0.8,0.7,0.8];
const dC50_dots=[0,1,5,10,15,20,25,30,35,39,43,46,49,51,53,55,56,57,58,58.5,59,60,59,61,60,59,60,61,59,60,61,60,59,60,61,59,60,61,60,59,60,61,59,60,61,60,59,60,61,60];

// 30+25 ignored 2.5
const dI25_n1=[5,12,18,26,36,45,53,59,64,68,71,74,77,80,82,84,86,88,89.5,91,92,93,94,95,96,97,97.5,98,98.5,99,99.2,99.3,99.4,99.5,99.4,99.5,99.5,99.6,99.5,99.6,99.6,99.5,99.6,99.7,99.6,99.6,99.7,99.6,99.7,99.7];
const dI25_n0=[85,76,67,58,47,38,31,26,22,19,17,15,13,11,9.5,8,6.5,5.5,4.5,3.5,3,2.5,2,1.5,1.2,1,0.7,0.5,0.4,0.3,0.2,0.2,0.2,0.2,0.2,0.2,0.2,0.2,0.2,0.2,0.1,0.1,0.1,0.1,0.1,0.1,0.1,0.1,0.1,0.1];
const dI25_n2=[4,6,9,11,12,12.5,12,11.5,11,10,9,8,7,6,5.5,5,4.5,4,3.5,3,2.5,2.5,2,1.5,1.2,0.9,0.8,0.7,0.5,0.3,0.1,0.1,0.1,0.1,0.1,0.1,0.1,0.1,0.1,0.1,0.1,0.1,0.1,0.1,0.1,0.1,0.1,0.1,0.1,0.1];
const dI25_n3=[2.5,2.5,2.5,2.5,2.5,2.5,2.5,2.5,2.5,2.5,2.2,2,2,2,1.8,1.8,1.6,1.5,1.4,1.2,1,0.8,0.7,0.6,0.5,0.4,0.3,0.2,0.2,0.1,0.1,0.1,0.1,0.1,0.1,0.1,0.1,0.1,0.1,0.1,0.1,0.1,0.1,0.1,0.1,0.1,0.1,0.1,0.1,0.1];
const dI25_n4=[1,1,1,1,1,1,1,1,1,1,1,1,1,1,1,1,0.4,0.4,0.4,0.4,0.4,0.4,0.4,0.4,0.4,0.4,0,0,0,0,0,0,0,0,0,0,0,0,0,0,0,0,0,0,0,0,0,0,0,0];
const dI25_n5=[0.3,0.3,0.3,0.3,0.3,0.3,0.3,0.3,0.3,0.3,0.3,0.3,0.3,0.3,0.3,0.3,0.3,0.3,0.3,0.3,0.3,0.3,0.3,0.3,0.3,0.3,0.3,0.3,0.3,0.3,0.3,0.3,0.3,0.3,0.3,0.3,0.3,0.3,0.3,0.3,0.3,0.3,0.3,0.3,0.3,0.3,0.3,0.3,0.3,0.3];
const dI25_dots=[0,3,8,14,22,31,40,48,55,61,66,70,74,77,80,83,85,87,89,90.5,92,93,94,95,96,96.8,97.5,98,98.5,99,99.4,99.7,100,100,100,100,100,100,100,100,100,100,100,100,100,100,100,100,100,100];

// 30+25 ignored 5.0
const dI50_n1=[8,10,14,20,26,33,40,47,53,59,64,69,73,77,80,83,85,87,88.5,90,91.5,92.5,93.5,94.5,95.5,96.5,97,97.5,98,98.5,99,99.2,99.3,99.4,99.3,99.4,99.5,99.4,99.5,99.5,99.5,99.6,99.5,99.5,99.6,99.5,99.6,99.6,99.5,99.6];
const dI50_n0=[85,82,75,64,56,48,41,35,30,25,21,17,14,11.5,10,8.5,7.5,6.5,5.5,4.5,4,3.5,3,2.5,2,1.5,1.2,1,0.7,0.5,0.3,0.3,0.3,0.3,0.3,0.3,0.3,0.3,0.3,0.3,0.2,0.2,0.2,0.2,0.2,0.2,0.2,0.2,0.2,0.2];
const dI50_n2=[3,4,6,10,11,12,12,11.5,11,10,9,8,7,6.5,5.5,4.5,3.5,3,2.7,2.5,2,1.6,1.3,1,0.8,0.7,0.5,0.4,0.3,0.3,0.1,0.1,0.1,0.1,0.1,0.1,0.1,0.1,0.1,0.1,0.1,0.1,0.1,0.1,0.1,0.1,0.1,0.1,0.1,0.1];
const dI50_n3=[2.5,2.5,2.5,2.5,2.5,2.5,2.5,2.5,2.5,2.5,2.5,2.3,2.2,2,1.8,1.6,1.5,1.3,1.2,1,0.9,0.8,0.7,0.6,0.5,0.4,0.3,0.2,0.2,0.1,0.1,0.1,0.1,0.1,0.1,0.1,0.1,0.1,0.1,0.1,0.1,0.1,0.1,0.1,0.1,0.1,0.1,0.1,0.1,0.1];
const dI50_n4=[1,1,1,1,1,1,1,1,1,1,1,1,1,1,1,1,0.3,0.3,0.3,0.3,0.3,0.3,0.3,0.3,0.3,0.3,0,0,0,0,0,0,0,0,0,0,0,0,0,0,0,0,0,0,0,0,0,0,0,0];
const dI50_n5=[0.3,0.3,0.3,0.3,0.3,0.3,0.3,0.3,0.3,0.3,0.3,0.3,0.3,0.3,0.3,0.3,0.3,0.3,0.3,0.3,0.3,0.3,0.3,0.3,0.3,0.3,0.3,0.3,0.3,0.3,0.3,0.3,0.3,0.3,0.3,0.3,0.3,0.3,0.3,0.3,0.3,0.3,0.3,0.3,0.3,0.3,0.3,0.3,0.3,0.3];
const dI50_n7=[0.5,0.5,0.5,0.5,0.5,0.5,0.5,0.5,0.5,0.5,0.5,0.5,0.5,0.5,0.5,0.5,0.5,0.5,0.5,0.5,0.5,0,0,0,0,0,0,0,0,0,0,0,0,0,0,0,0,0,0,0,0,0,0,0,0,0,0,0,0,0];
const dI50_dots=[0,1,5,11,18,25,32,40,47,54,60,66,71,75,79,82,84,86,88,89.5,91,92,93,94,95,96,96.8,97.5,98,98.5,99,99.4,99.7,100,100,100,100,100,100,100,100,100,100,100,100,100,100,100,100,100];

// ---------- table built from the arrays ----------
const panels=[
 {g:0,c:0,r:0,s:{"1":aC25_n1,"0":aC25_n0,"2":aC25_n2,"3":aC25_n3,"4":aC25_n4,"5":aC25_n5,"8":aC25_n8},d:aC25_dots},
 {g:0,c:0,r:1,s:{"1":aC50_n1,"0":aC50_n0,"2":aC50_n2,"3":aC50_n3,"4":aC50_n4,"5":aC50_n5,"8":aC50_n8},d:aC50_dots},
 {g:0,c:1,r:0,s:{"1":aI25_n1,"0":aI25_n0,"2":aI25_n2,"3":aI25_n3,"4":aI25_n4},d:aI25_dots},
 {g:0,c:1,r:1,s:{"1":aI50_n1,"0":aI50_n0,"2":aI50_n2,"5":aI50_n5},d:aI50_dots},
 {g:1,c:0,r:0,s:{"1":bC25_n1,"0":bC25_n0,"2":bC25_n2,"3":bC25_n3,"4":bC25_n4,"5":bC25_n5,"9":bC25_n9},d:bC25_dots},
 {g:1,c:0,r:1,s:{"1":bC50_n1,"0":bC50_n0,"2":bC50_n2,"3":bC50_n3,"4":bC50_n4,"5":bC50_n5,"7":bC50_n7,"9":bC50_n9},d:bC50_dots},
 {g:1,c:1,r:0,s:{"1":bI25_n1,"0":bI25_n0,"2":bI25_n2,"3":bI25_n3,"4":bI25_n4,"5":bI25_n5},d:bI25_dots},
 {g:1,c:1,r:1,s:{"1":bI50_n1,"0":bI50_n0,"2":bI50_n2,"3":bI50_n3,"4":bI50_n4,"5":bI50_n5},d:bI50_dots},
 {g:2,c:0,r:0,s:{"1":cC25_n1,"0":cC25_n0,"2":cC25_n2,"3":cC25_n3,"4":cC25_n4,"5":cC25_n5,"9":cC25_n9},d:cC25_dots},
 {g:2,c:0,r:1,s:{"1":cC50_n1,"0":cC50_n0,"2":cC50_n2,"3":cC50_n3,"4":cC50_n4,"5":cC50_n5,">9":cC50_n10},d:cC50_dots},
 {g:2,c:1,r:0,s:{"1":cI25_n1,"0":cI25_n0,"2":cI25_n2,"4":cI25_n4,"5":cI25_n5},d:cI25_dots},
 {g:2,c:1,r:1,s:{"1":cI50_n1,"0":cI50_n0,"2":cI50_n2,"5":cI50_n5},d:cI50_dots},
 {g:3,c:0,r:0,s:{"1":dC25_n1,"0":dC25_n0,"2":dC25_n2,"3":dC25_n3,"4":dC25_n4,"5":dC25_n5,"9":dC25_n9},d:dC25_dots},
 {g:3,c:0,r:1,s:{"1":dC50_n1,"0":dC50_n0,"2":dC50_n2,"3":dC50_n3,"4":dC50_n4,"5":dC50_n5,"7":dC50_n7,">9":dC50_n10},d:dC50_dots},
 {g:3,c:1,r:0,s:{"1":dI25_n1,"0":dI25_n0,"2":dI25_n2,"3":dI25_n3,"4":dI25_n4,"5":dI25_n5},d:dI25_dots},
 {g:3,c:1,r:1,s:{"1":dI50_n1,"0":dI50_n0,"2":dI50_n2,"3":dI50_n3,"4":dI50_n4,"5":dI50_n5,"7":dI50_n7},d:dI50_dots}
];

// ---------- LAYOUT ----------
const colors=["#E69F00","#56B4E9","#D55E00","#009E73","#F0E442","#0072B2","#999999","#CC79A7","#A52A2A","#A020F0","#C0FF3E"];
const color=d3.scaleOrdinal().domain(clusterKeys).range(colors);
const GX=[0,603,0,603], GY=[0,0,349,349];
const PX=[61,320], PW=256;
const PY=[43.5,173.6], PH=126.8;
const FONT='"Liberation Sans",Arial,sans-serif';

const svg=d3.select("body").append("svg").attr("width",1315).attr("height",685);
const x=d3.scaleLinear().domain([-7.5,157.5]).range([0,PW]);
const y=d3.scaleLinear().domain([-0.05,1.05]).range([PH,0]);
const stack=d3.stack().keys(clusterKeys).offset(d3.stackOffsetExpand);
const mids=binEdges.slice(0,-1).map((e,i)=>(e+binEdges[i+1])/2);

for(let g=0;g<4;g++){
  const G=svg.append("g").attr("transform",`translate(${GX[g]},${GY[g]})`);
  G.append("text").attr("x",317.5).attr("y",24).attr("text-anchor","middle")
   .attr("font-size",21).attr("fill","#000").text(titles[g]);
  for(let c=0;c<2;c++){
    G.append("rect").attr("x",PX[c]).attr("y",27).attr("width",PW).attr("height",16.5).attr("fill","#CCCCCC");
    G.append("text").attr("x",PX[c]+PW/2).attr("y",35.5).attr("text-anchor","middle")
     .attr("dominant-baseline","central").attr("font-size",14).attr("fill","#1A1A1A").text(colLabels[c]);
  }
  for(let r=0;r<2;r++){
    G.append("rect").attr("x",577).attr("y",PY[r]).attr("width",16.5).attr("height",PH).attr("fill","#CCCCCC");
    G.append("text").attr("transform",`translate(585.3,${PY[r]+PH/2}) rotate(90)`).attr("text-anchor","middle")
     .attr("dominant-baseline","central").attr("font-size",14).attr("fill","#1A1A1A").text(rowLabels[r]);
  }
  G.append("text").attr("x",318.5).attr("y",332.3).attr("text-anchor","middle").attr("font-size",16).attr("fill","#000").text("Distance, mm");
  G.append("text").attr("transform",`translate(23.5,173) rotate(-90)`).attr("text-anchor","middle").attr("font-size",17).attr("fill","#000").text("Fraction of the events");
}

panels.forEach(p=>{
  const P=svg.append("g").attr("transform",`translate(${GX[p.g]+PX[p.c]},${GY[p.g]+PY[p.r]})`);
  P.append("rect").attr("width",PW).attr("height",PH).attr("fill","#E5E5E5");
  [0.125,0.375,0.625,0.875].forEach(v=>P.append("line").attr("x1",0).attr("x2",PW).attr("y1",y(v)).attr("y2",y(v)).attr("stroke","#F2F2F2").attr("stroke-width",0.55));
  [25,75,125].forEach(v=>P.append("line").attr("y1",0).attr("y2",PH).attr("x1",x(v)).attr("x2",x(v)).attr("stroke","#F2F2F2").attr("stroke-width",0.55));
  yTicks.forEach(v=>P.append("line").attr("x1",0).attr("x2",PW).attr("y1",y(v)).attr("y2",y(v)).attr("stroke","#FFFFFF").attr("stroke-width",1.1));
  xTicks.forEach(v=>P.append("line").attr("y1",0).attr("y2",PH).attr("x1",x(v)).attr("x2",x(v)).attr("stroke","#FFFFFF").attr("stroke-width",1.1));
  const rows=mids.map((m,i)=>{const o={x0:binEdges[i],x1:binEdges[i+1]};clusterKeys.forEach(k=>{o[k]=(p.s[k]&&p.s[k][i]!=null)?p.s[k][i]:0;});return o;});
  const layers=stack(rows);
  layers.forEach(L=>{
    P.append("g").attr("fill",color(L.key)).attr("shape-rendering","crispEdges")
     .selectAll("rect").data(L.filter(d=>d[1]-d[0]>1e-6)).join("rect")
     .attr("x",d=>x(d.data.x0)).attr("width",d=>x(d.data.x1)-x(d.data.x0)+0.35)
     .attr("y",d=>y(d[1])).attr("height",d=>Math.max(0,y(d[0])-y(d[1])));
  });
  const line=d3.line().x((d,i)=>x(mids[i])).y(d=>y(d/100));
  P.append("path").attr("d",line(p.d)).attr("fill","none").attr("stroke","#000")
   .attr("stroke-width",1.8).attr("stroke-dasharray","1.6,2.2");
  if(p.c===0){
    const ax=P.append("g").call(d3.axisLeft(y).tickValues(yTicks).tickFormat(d3.format(".2f")).tickSize(5).tickPadding(2));
    ax.select(".domain").remove();
    ax.selectAll("line").attr("stroke","#7F7F7F");
    ax.selectAll("text").attr("fill","#7F7F7F").attr("font-size",14).attr("font-family",FONT);
  }
  if(p.r===1){
    const ax=P.append("g").attr("transform",`translate(0,${PH})`).call(d3.axisBottom(x).tickValues(xTicks).tickSize(3).tickPadding(1.5));
    ax.select(".domain").remove();
    ax.selectAll("line").attr("stroke","#7F7F7F");
    ax.selectAll("text").attr("fill","#7F7F7F").attr("font-size",13.5).attr("font-family",FONT);
  }
});

const Lg=svg.append("g");
Lg.append("text").attr("x",1219).attr("y",251.5).attr("font-size",15.5).attr("font-weight","bold").attr("fill","#000").text("N Clusters");
clusterKeys.forEach((k,i)=>{
  const yy=256.5+i*17;
  Lg.append("rect").attr("x",1219).attr("y",yy).attr("width",17).attr("height",17).attr("fill",color(k)).attr("stroke","#F2F2F2").attr("stroke-width",0.8);
  Lg.append("text").attr("x",1239).attr("y",yy+8.8).attr("dominant-baseline","central").attr("font-size",14).attr("fill","#000").text(k);
});
</script>
</body></html>
